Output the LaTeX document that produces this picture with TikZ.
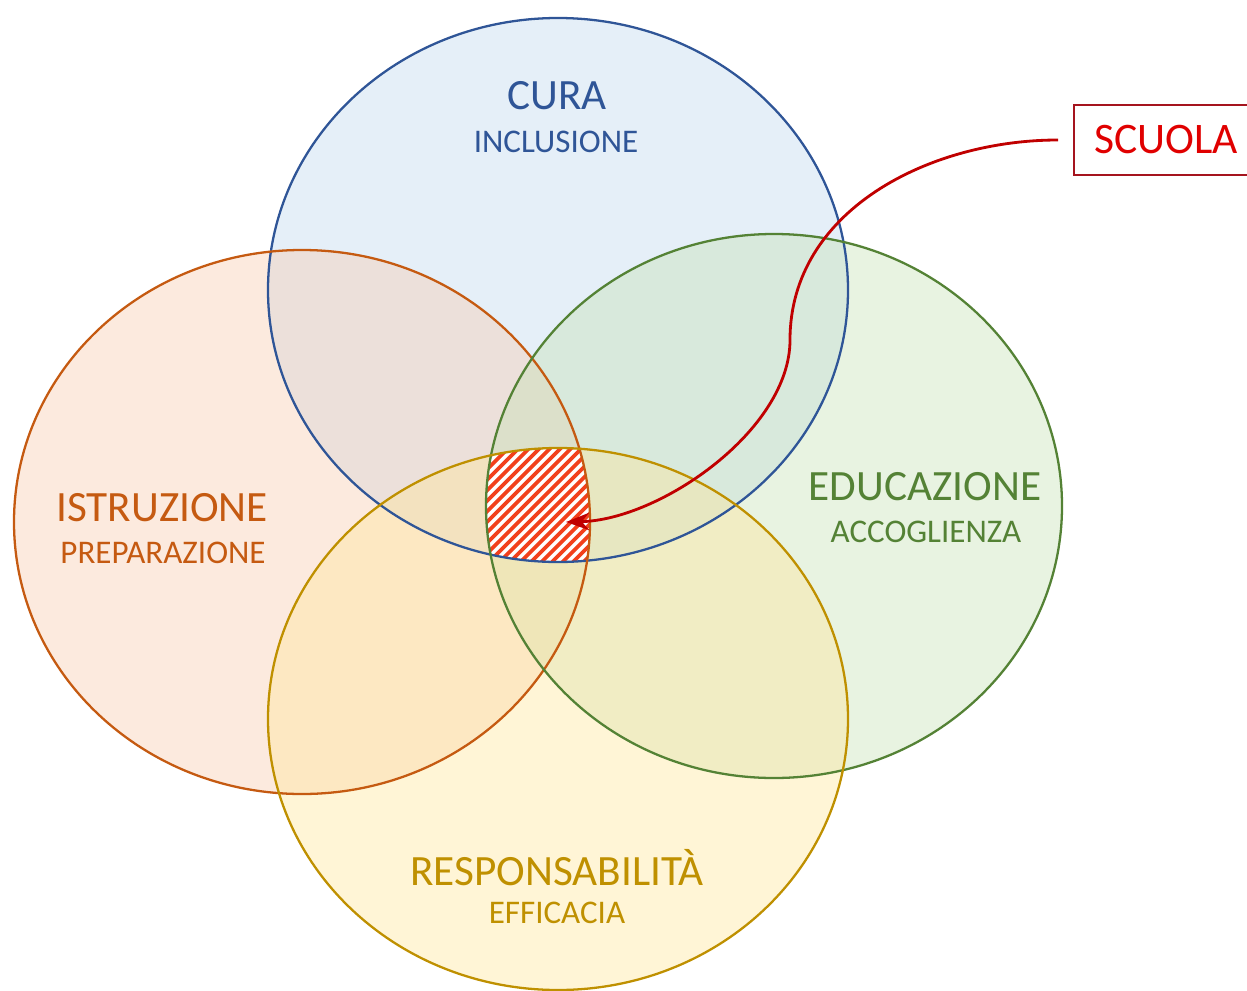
\documentclass[tikz,border=0pt]{standalone}
\usepackage{fontspec}
\setmainfont{Carlito}
\usetikzlibrary{arrows.meta}
\definecolor{curaC}{HTML}{2F5597}
\definecolor{curaF}{HTML}{BDD7EE}
\definecolor{istrC}{HTML}{C55A11}
\definecolor{istrF}{HTML}{F8CBAD}
\definecolor{educC}{HTML}{548235}
\definecolor{educF}{HTML}{C5E0B4}
\definecolor{respC}{HTML}{BF9000}
\definecolor{respF}{HTML}{FFE699}
\definecolor{scuolaC}{HTML}{E00000}
\definecolor{boxC}{HTML}{A5141E}
\definecolor{arrowC}{HTML}{C00000}
\definecolor{hatchC}{HTML}{F2401C}
\begin{document}
\begin{tikzpicture}[
    >=Stealth,
    ring/.style={line width=0.65pt},
    ringfill/.style={fill opacity=0.4},
    titlelbl/.style={font=\fontsize{12.3}{14}\selectfont},
    sublbl/.style={font=\fontsize{9.4}{11}\selectfont},
    scuolabox/.style={draw=boxC, line width=0.6pt, text=scuolaC, minimum height=0.70cm,
        text width=1.65cm, inner xsep=0.2cm, align=left, font=\fontsize{12.4}{14}\selectfont},
    hatch/.style={hatchC, line width=1.1pt},
    pointer/.style={->, arrowC, line width=0.8pt, shorten <=0.15cm}
]
\useasboundingbox (0,0) rectangle (12.47,-9.90);
% Ellipse centres and radii
\def\cura{(5.58,-2.90) ellipse [x radius=2.90, y radius=2.72]}
\def\istr{(3.02,-5.22) ellipse [x radius=2.88, y radius=2.72]}
\def\educ{(7.74,-5.06) ellipse [x radius=2.88, y radius=2.72]}
\def\resp{(5.58,-7.19) ellipse [x radius=2.90, y radius=2.71]}
% Fills
\fill[curaF, ringfill] \cura;
\fill[istrF, ringfill] \istr;
\fill[educF, ringfill] \educ;
\fill[respF, ringfill] \resp;
% Common part of all four sets (hatched)
\begin{scope}
  \clip \cura; \clip \istr; \clip \educ; \clip \resp;
  \fill[white] (4.7,-4.3) rectangle (6.1,-5.8);
  \foreach \s in {0,...,23} {
    \draw[hatch] (3.45+\s*0.105,-5.8) -- ++(1.5,1.5);
  }
\end{scope}
% Outlines
\draw[curaC, ring] \cura;
\draw[istrC, ring] \istr;
\draw[educC, ring] \educ;
\draw[respC, ring] \resp;
% Labels
\node[titlelbl, text=curaC] (cura) at (5.57,-0.96) {CURA};
\node[sublbl, text=curaC] (inclusione) at (5.56,-1.42) {INCLUSIONE};
\node[titlelbl, text=istrC] (istruzione) at (1.62,-5.08) {ISTRUZIONE};
\node[sublbl, text=istrC] (preparazione) at (1.63,-5.53) {PREPARAZIONE};
\node[titlelbl, text=educC] (educazione) at (9.25,-4.87) {EDUCAZIONE};
\node[sublbl, text=educC] (accoglienza) at (9.26,-5.32) {ACCOGLIENZA};
\node[titlelbl, text=respC] (responsabilita) at (5.57,-8.68) {RESPONSABILITÀ};
\node[sublbl, text=respC] (efficacia) at (5.57,-9.13) {EFFICACIA};
% School box and pointer
\node[scuolabox, anchor=west] (scuola) at (10.73,-1.40) {SCUOLA};
\coordinate (hub) at (5.66,-5.22);
\draw[pointer] (scuola.west) .. controls (9.3,-1.40) and (7.9,-2.1) .. (7.9,-3.40)
    .. controls (7.9,-4.3) and (6.6,-5.2) .. (hub);
\end{tikzpicture}
\end{document}
